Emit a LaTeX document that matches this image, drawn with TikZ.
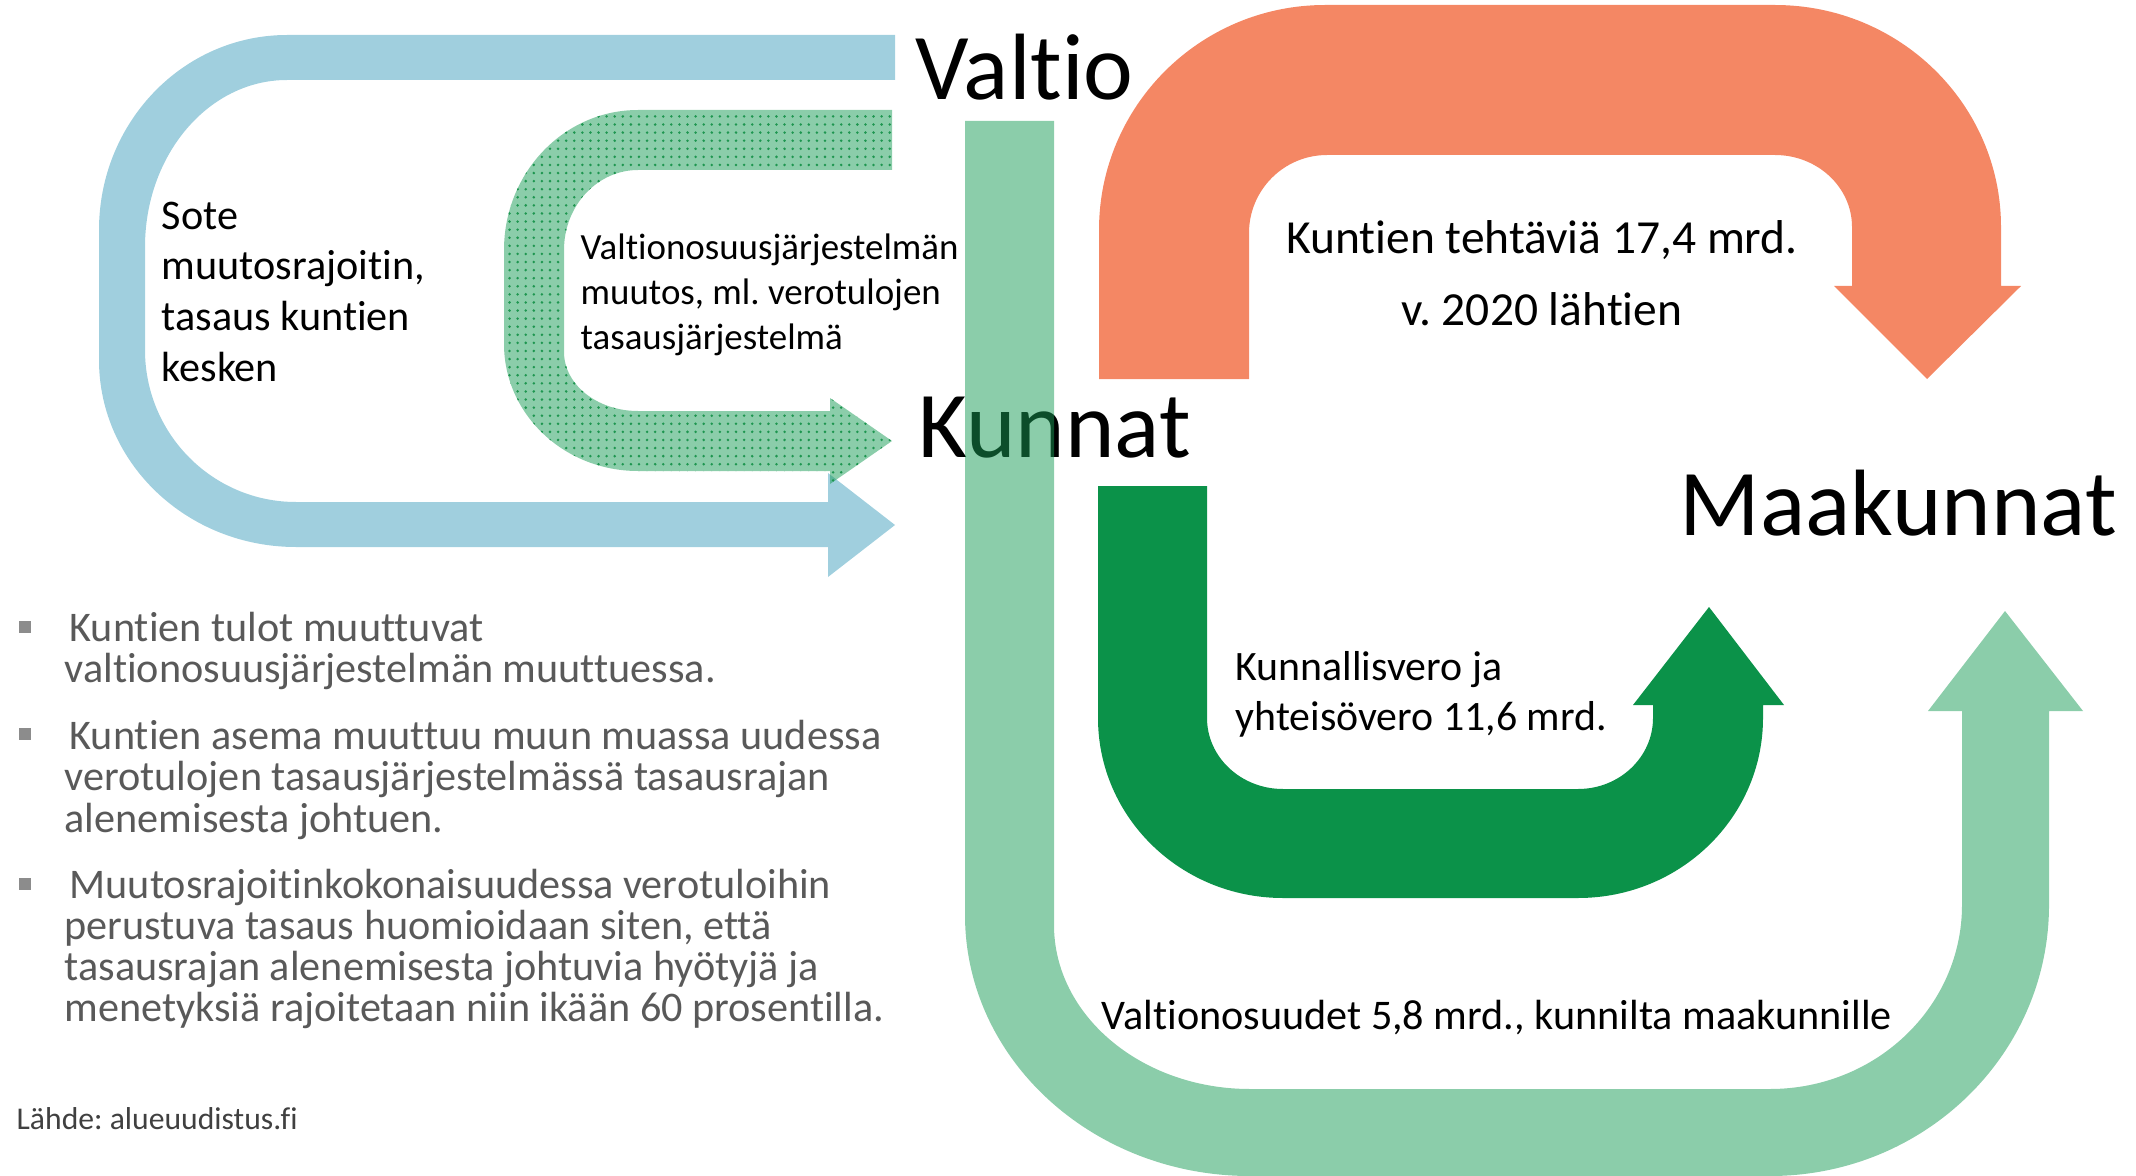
\documentclass[tikz,border=0pt]{standalone}
\usepackage{fontspec}
\setmainfont{Carlito}[Ligatures=NoCommon]
\usetikzlibrary{patterns.meta}
\frenchspacing

\definecolor{soteblue}{RGB}{160,207,222}
\definecolor{taskorange}{RGB}{244,135,100}
\definecolor{taxgreen}{RGB}{11,146,73}
\definecolor{grantgreen}{RGB}{24,155,85}
\definecolor{dotgreen}{RGB}{30,150,80}
\definecolor{bullettext}{RGB}{89,89,89}
\definecolor{bulletmark}{RGB}{140,140,140}
\definecolor{sourcetext}{RGB}{64,64,64}

\tikzdeclarepattern{
  name=finedots,
  type=uncolored,
  bottom left={(-1.15pt,-1.15pt)},
  top right={(1.15pt,1.15pt)},
  tile size={(2.3pt,2.3pt)},
  code={\pgfpathcircle{\pgfpointorigin}{0.4pt}\pgfusepath{fill}}
}

\begin{document}
\begin{tikzpicture}[x=0.01cm, y=-0.01cm]
    % Define styles
    \tikzset{
        txt/.style={inner sep=0pt, anchor=base west, align=left},
        bigname/.style={txt, font=\fontsize{26.8pt}{31pt}\selectfont},
        flowtext/.style={txt, font=\fontsize{12pt}{14.4pt}\selectfont},
        bullettxt/.style={txt, text=bullettext, font=\fontsize{12pt}{11.7pt}\selectfont},
        bulletsq/.style={fill=bulletmark, inner sep=0pt, minimum size=0.12cm},
        grantband/.style={fill=grantgreen, fill opacity=0.5}
    }
    \useasboundingbox (0,0) rectangle (2136,1176);

    % Sote arrow (Valtio -> Kunnat, outer)
    \fill[soteblue] (895,35) -- (287,35)
        arc[start angle=270, end angle=180, x radius=188, y radius=195]
        -- (99,360)
        arc[start angle=180, end angle=90, x radius=197, y radius=187]
        -- (828,547) -- (828,577) -- (895,525) -- (828,473) -- (828,502)
        -- (296,502)
        arc[start angle=90, end angle=180, x radius=151, y radius=152]
        -- (145,247)
        arc[start angle=180, end angle=270, x radius=142, y radius=167]
        -- (895,80) -- cycle;

    % Valtionosuus arrow (Valtio -> Kunnat, inner, dotted)
    \path[grantband, postaction={pattern=finedots, pattern color=dotgreen, fill opacity=1}]
        (892,110) -- (638,110)
        arc[start angle=270, end angle=180, x radius=134, y radius=140]
        -- (504,344)
        arc[start angle=180, end angle=90, x radius=134, y radius=127]
        -- (830,471) -- (830,484) -- (892,441) -- (830,398) -- (830,411)
        -- (638,411)
        arc[start angle=90, end angle=180, x radius=74, y radius=59]
        -- (564,250)
        arc[start angle=180, end angle=270, x radius=74, y radius=80]
        -- (892,170) -- cycle;

    % Tasks arrow (Kunnat -> Maakunnat)
    \fill[taskorange] (1099,379) -- (1099,230)
        arc[start angle=180, end angle=270, x radius=226, y radius=225]
        -- (1775,5)
        arc[start angle=270, end angle=360, x radius=226, y radius=222]
        -- (2001,286) -- (2021,286) -- (1927,379) -- (1834,286) -- (1852,286)
        -- (1852,227)
        arc[start angle=0, end angle=-90, x radius=77, y radius=72]
        -- (1327,155)
        arc[start angle=270, end angle=180, x radius=78, y radius=78]
        -- (1249,379) -- cycle;

    % Tax arrow (Kunnat -> Maakunnat)
    \fill[taxgreen] (1098,486) -- (1098,718)
        arc[start angle=180, end angle=90, x radius=185, y radius=180]
        -- (1578,898)
        arc[start angle=90, end angle=0, x radius=185, y radius=180]
        -- (1763,705) -- (1784,705) -- (1709,607) -- (1633,705) -- (1653,705)
        -- (1653,718)
        arc[start angle=0, end angle=90, x radius=75, y radius=71]
        -- (1283,789)
        arc[start angle=90, end angle=180, x radius=76, y radius=71]
        -- (1207,486) -- cycle;

    % Parties
    \node[bigname] (valtio) at (915,100) {Valtio};
    \node[bigname] (kunnat) at (918,457) {Kunnat};
    \node[bigname] (maakunnat) at (1679,535) {Maakunnat};

    % Flow labels (anchored at last line)
    \node[flowtext] (sote) at (161,381) {Sote\\muutosrajoitin,\\tasaus kuntien\\kesken};
    \node[flowtext, font=\fontsize{10.5pt}{12.7pt}\selectfont] (vos) at (580,349)
        {Valtionosuusjärjestelmän\\muutos, ml. verotulojen\\tasausjärjestelmä};
    \node[flowtext, anchor=base, align=center, font=\fontsize{13.5pt}{20.2pt}\selectfont] (tasks) at (1542,325)
        {Kuntien tehtäviä 17,4 mrd.\\v. 2020 lähtien};
    \node[flowtext, font=\fontsize{11.9pt}{14.2pt}\selectfont] (tax) at (1235,730)
        {Kunnallisvero ja\\yhteisövero 11,6 mrd.};
    \node[flowtext] (grants) at (1101,1029) {Valtionosuudet 5,8 mrd., kunnilta maakunnille};

    % Grants arrow (Valtio -> Maakunnat), see-through over Kunnat
    \fill[grantband] (965,121) -- (965,915)
        arc[start angle=180, end angle=90, x radius=285, y radius=261]
        -- (1770,1176)
        arc[start angle=90, end angle=0, x radius=279, y radius=271]
        -- (2049,711) -- (2083,711) -- (2005,611) -- (1928,711) -- (1962,711)
        -- (1962,905)
        arc[start angle=0, end angle=90, x radius=192, y radius=184]
        -- (1250,1089)
        arc[start angle=90, end angle=180, x radius=196, y radius=164]
        -- (1054,121) -- cycle;

    % Bullets
    \node[bulletsq] (sq1) at (25,626.6) {};
    \node[bulletsq] (sq2) at (25,734) {};
    \node[bulletsq] (sq3) at (25,883.5) {};
    \node[bullettxt] (point1) at (64,682.6)
        {\hspace*{1.4pt}Kuntien tulot muuttuvat\\valtionosuusjärjestelmän muuttuessa.};
    \node[bullettxt] (point2) at (64,832)
        {\hspace*{1.4pt}Kuntien asema muuttuu muun muassa uudessa\\verotulojen tasausjärjestelmässä tasausrajan\\alenemisesta johtuen.};
    \node[bullettxt] (point3) at (64,1021.6)
        {\hspace*{1.4pt}Muutosrajoitinkokonaisuudessa verotuloihin\\perustuva tasaus huomioidaan siten, että\\tasausrajan alenemisesta johtuvia hyötyjä ja\\menetyksiä rajoitetaan niin ikään 60 prosentilla.};

    % Source
    \node[flowtext, text=sourcetext, font=\fontsize{9pt}{11pt}\selectfont] (source) at (16,1129)
        {Lähde: alueuudistus.fi};
\end{tikzpicture}
\end{document}
